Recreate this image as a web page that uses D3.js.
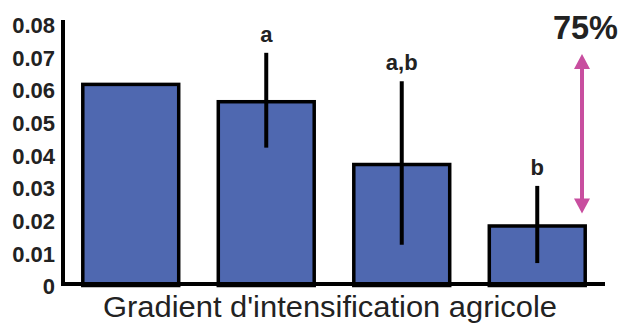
<!DOCTYPE html>
<html>
<head>
<meta charset="utf-8">
<script src="https://cdn.jsdelivr.net/npm/d3@7"></script>
<style>
  body { margin: 0; background: #fff; }
  svg { display: block; font-family: "Liberation Sans", Arial, sans-serif; }
</style>
</head>
<body>
<svg id="chart" width="622" height="326"></svg>
<script>
const groups = ['g1', 'g2', 'g3', 'g4']
const means = [0.0615, 0.0562, 0.037, 0.0182]
const errors = [null, 0.0145, 0.025, 0.0118]
const letters = ['', 'a', 'a,b', 'b']
const yTicks = [0, 0.01, 0.02, 0.03, 0.04, 0.05, 0.06, 0.07, 0.08]
const yTickLabels = ['0', '0.01', '0.02', '0.03', '0.04', '0.05', '0.06', '0.07', '0.08']
const xTitle = "Gradient d'intensification agricole"
const arrowLabel = '75%'

const svg = d3.select('#chart')
const barColor = '#4f68b0'
const arrowColor = '#c84e9f'

const x = d3.scaleBand()
    .domain(groups)
    .range([63, 605])
    .paddingInner(0.27)
    .paddingOuter(0.135)

const y = d3.scaleLinear()
    .domain([0, 0.08])
    .range([284, 22.4])

// bars
svg.selectAll('rect.bar')
    .data(means)
    .join('rect')
    .classed('bar', true)
    .attr('x', (d, i) => x(groups[i]) + 1.5)
    .attr('width', x.bandwidth() - 3)
    .attr('y', d => y(d) + 1.5)
    .attr('height', d => y(0) - y(d))
    .attr('fill', barColor)
    .attr('stroke', '#000')
    .attr('stroke-width', 3.5)

// error bars
const errData = means.map((m, i) => ({ m, e: errors[i], g: groups[i], l: letters[i] }))
    .filter(d => d.e != null)

svg.selectAll('line.err')
    .data(errData)
    .join('line')
    .classed('err', true)
    .attr('x1', d => x(d.g) + x.bandwidth() / 2)
    .attr('x2', d => x(d.g) + x.bandwidth() / 2)
    .attr('y1', d => y(d.m + d.e))
    .attr('y2', d => y(d.m - d.e))
    .attr('stroke', '#000')
    .attr('stroke-width', 4)

svg.selectAll('text.letter')
    .data(errData)
    .join('text')
    .classed('letter', true)
    .attr('x', d => x(d.g) + x.bandwidth() / 2)
    .attr('y', d => y(d.m + d.e) - 11)
    .attr('text-anchor', 'middle')
    .attr('font-weight', 'bold')
    .attr('font-size', 22)
    .attr('fill', '#222')
    .text(d => d.l)

// axes
const yAxis = svg.append('g')
    .attr('transform', 'translate(63,0)')
    .call(d3.axisLeft(y).tickValues(yTicks).tickSize(0).tickPadding(8)
        .tickFormat((d, i) => yTickLabels[i]))
yAxis.select('.domain').remove()
yAxis.selectAll('text')
    .attr('font-family', '"Liberation Sans", Arial, sans-serif')
    .attr('font-size', 22)
    .attr('font-weight', 'bold')
    .attr('fill', '#222')
    .attr('dy', '0.45em')

svg.append('line')
    .attr('x1', 63).attr('x2', 63)
    .attr('y1', 20).attr('y2', 286)
    .attr('stroke', '#000').attr('stroke-width', 4)

svg.append('line')
    .attr('x1', 61).attr('x2', 605)
    .attr('y1', 284).attr('y2', 284)
    .attr('stroke', '#000').attr('stroke-width', 4)

svg.append('text')
    .attr('x', 330)
    .attr('y', 317)
    .attr('text-anchor', 'middle')
    .attr('font-size', 29)
    .attr('fill', '#222')
    .attr('textLength', 454)
    .attr('lengthAdjust', 'spacingAndGlyphs')
    .text(xTitle)

// 75% arrow between first and last bar
const ax = 582
const yTop = y(means[0]) - 29
const yBot = y(means[3]) - 11
svg.append('line')
    .attr('x1', ax).attr('x2', ax)
    .attr('y1', yTop + 12).attr('y2', yBot - 12)
    .attr('stroke', arrowColor).attr('stroke-width', 4)
svg.append('path')
    .attr('d', `M${ax},${yTop} L${ax - 8},${yTop + 15} L${ax + 8},${yTop + 15} Z`)
    .attr('fill', arrowColor)
svg.append('path')
    .attr('d', `M${ax},${yBot} L${ax - 8},${yBot - 15} L${ax + 8},${yBot - 15} Z`)
    .attr('fill', arrowColor)

svg.append('text')
    .attr('x', 618)
    .attr('y', 39)
    .attr('text-anchor', 'end')
    .attr('font-size', 34)
    .attr('font-weight', 'bold')
    .attr('fill', '#222')
    .attr('textLength', 65)
    .attr('lengthAdjust', 'spacingAndGlyphs')
    .text(arrowLabel)
</script>
</body>
</html>
